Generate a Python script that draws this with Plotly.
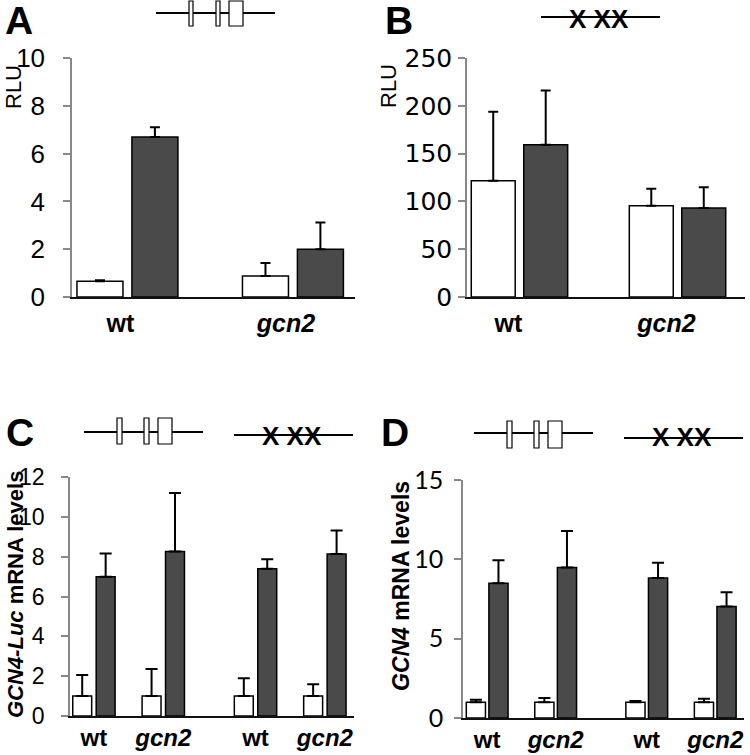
import plotly.graph_objects as go

W, H = 750, 755

# ---------------- data ----------------
# Panel A (RLU, wild-type uORF construct)
a_groups = ["wt", "gcn2"]
a_white = [0.66, 0.88]
a_white_err = [0.04, 0.54]
a_dark = [6.69, 2.0]
a_dark_err = [0.41, 1.12]

# Panel B (RLU, uORF-less construct)
b_groups = ["wt", "gcn2"]
b_white = [121.7, 95.5]
b_white_err = [72.2, 17.8]
b_dark = [159.3, 93.1]
b_dark_err = [56.7, 21.6]

# Panel C (GCN4-Luc mRNA levels)
c_groups = ["wt", "gcn2", "wt", "gcn2"]
c_white = [1.0, 1.0, 1.0, 1.0]
c_white_err = [1.06, 1.36, 0.89, 0.59]
c_dark = [6.99, 8.26, 7.39, 8.14]
c_dark_err = [1.17, 2.94, 0.48, 1.17]

# Panel D (GCN4 mRNA levels)
d_groups = ["wt", "gcn2", "wt", "gcn2"]
d_white = [1.0, 1.0, 1.0, 1.0]
d_white_err = [0.15, 0.26, 0.07, 0.22]
d_dark = [8.5, 9.48, 8.83, 7.03]
d_dark_err = [1.44, 2.31, 0.95, 0.9]

a_ticks = [0, 2, 4, 6, 8, 10]
b_ticks = [0, 50, 100, 150, 200, 250]
c_ticks = [0, 2, 4, 6, 8, 10, 12]
d_ticks = [0, 5, 10, 15]

# ---------------- helpers ----------------
def fx(x):
    return x / W

def fy(y):
    return 1 - y / H

DARK = "#4a4a4a"
ARIAL = "Liberation Sans, Arial, sans-serif"


def label(g):
    return "<b><i>%s</i></b>" % g if g != "wt" else "<b>%s</b>" % g


def positions(n):
    # pairs of groups separated by a wider gap
    return [i + (0.33 if i >= 2 else 0.0) for i in range(n)]


fig = go.Figure()


def add_panel(idx, groups, white, white_err, dark, dark_err, off, bw, capw):
    pos = positions(len(groups))
    xa = "x" if idx == 1 else "x%d" % idx
    ya = "y" if idx == 1 else "y%d" % idx
    for vals, errs, col, sgn in [(white, white_err, "white", -1), (dark, dark_err, DARK, 1)]:
        fig.add_trace(go.Bar(
            x=[p + sgn * off for p in pos], y=vals, width=bw,
            marker=dict(color=col, line=dict(color="black", width=1.5)),
            error_y=dict(type="data", array=errs, arrayminus=[0] * len(errs),
                         symmetric=False, color="black", thickness=2, width=capw),
            xaxis=xa, yaxis=ya, showlegend=False, hoverinfo="y",
        ))
    return pos


pa = add_panel(1, a_groups, a_white, a_white_err, a_dark, a_dark_err, 0.166, 0.278, 5)
pb = add_panel(2, b_groups, b_white, b_white_err, b_dark, b_dark_err, 0.166, 0.278, 5)
pc = add_panel(3, c_groups, c_white, c_white_err, c_dark, c_dark_err, 0.169, 0.273, 6)
pd_ = add_panel(4, d_groups, d_white, d_white_err, d_dark, d_dark_err, 0.165, 0.28, 6)


def xaxis_cfg(anchor, x0, x1, rng, pos, groups, size, standoff, shift=0):
    return dict(anchor=anchor, domain=[fx(x0), fx(x1)], range=rng, tickvals=pos,
                ticktext=[label(g) for g in groups], ticks="", showgrid=False,
                zeroline=False, showline=True, linecolor="#111", linewidth=2,
                tickfont=dict(family=ARIAL, size=size, color="black"),
                ticklabelstandoff=standoff, ticklabelshift=shift,
                fixedrange=True, automargin=False)


def yaxis_cfg(anchor, ytop, ybot, rng, tv, font, size, standoff):
    return dict(anchor=anchor, domain=[fy(ybot), fy(ytop)], range=rng, tickvals=tv,
                ticks="outside", ticklen=7, tickcolor="#888", tickwidth=1.5,
                showline=True, linecolor="#888", linewidth=1.5, showgrid=False,
                zeroline=False, tickfont=dict(family=font, size=size, color="black"),
                ticklabelstandoff=standoff, fixedrange=True, automargin=False)


fig.update_layout(
    template="none",
    width=W, height=H, margin=dict(l=0, r=0, t=0, b=0, autoexpand=False),
    paper_bgcolor="white", plot_bgcolor="white", barmode="overlay",
    xaxis=xaxis_cfg("y", 72, 355, [-0.335, 1.375], pa, a_groups, 25, 3, -7),
    yaxis=yaxis_cfg("x", 58, 297, [0, 10], a_ticks, ARIAL, 26, 13),
    xaxis2=xaxis_cfg("y2", 467, 745, [-0.332, 1.427], pb, b_groups, 25, 3, -11),
    yaxis2=yaxis_cfg("x2", 58, 297, [0, 250], b_ticks, "DejaVu Sans, sans-serif", 25, 1),
    xaxis3=xaxis_cfg("y3", 70, 354, [-0.345, 3.75], pc, c_groups, 24, -1),
    yaxis3=yaxis_cfg("x3", 477, 716, [0, 12], c_ticks, ARIAL, 23, 12),
    xaxis4=xaxis_cfg("y4", 463, 744, [-0.353, 3.75], pd_, d_groups, 24, -1),
    yaxis4=yaxis_cfg("x4", 480, 718, [0, 15], d_ticks, "Lato, Open Sans, sans-serif", 25, 6),
)

ann = []
# panel letters
for txt, x, y in [("A", 19, 20), ("B", 399, 21), ("C", 20, 432), ("D", 395, 433)]:
    ann.append(dict(text="<b>%s</b>" % txt, x=fx(x), y=fy(y), xref="paper", yref="paper",
                    xanchor="center", yanchor="middle", showarrow=False,
                    font=dict(family=ARIAL, size=39, color="black")))
# y titles
for txt, x, y, size in [("RLU", 13, 87, 22), ("RLU", 389, 86, 22),
                        ("<b><i>GCN4-Luc</i> mRNA levels</b>", 15, 595, 22),
                        ("<b><i>GCN4</i> mRNA levels</b>", 401, 586, 23)]:
    ann.append(dict(text=txt, x=fx(x), y=fy(y), xref="paper", yref="paper",
                    xanchor="center", yanchor="middle", textangle=-90, showarrow=False,
                    font=dict(family=ARIAL, size=size, color="black")))
# crossed-out uORF labels
for x, y in [(599, 19), (292, 436), (682, 437)]:
    ann.append(dict(text="<b>X XX</b>", x=fx(x), y=fy(y), xref="paper", yref="paper",
                    xanchor="center", yanchor="middle", showarrow=False,
                    font=dict(family=ARIAL, size=26, color="black")))

shapes = []
# leader lines
for x0, x1, y in [(156, 275, 13), (541, 660, 17), (84, 203, 432), (234, 353, 435),
                  (474, 593, 433), (624, 743, 438)]:
    shapes.append(dict(type="line", xref="paper", yref="paper", x0=fx(x0), x1=fx(x1),
                       y0=fy(y), y1=fy(y), line=dict(color="black", width=2), layer="below"))
# uORF boxes
for boxes in [[(189, 193, 1, 26), (216, 220, 1, 26), (229, 243, 1, 26)],
              [(117, 122, 418, 444), (144, 149, 418, 444), (158, 172, 418, 444)],
              [(507, 512, 421, 448), (534, 539, 421, 448), (548, 562, 421, 448)]]:
    for x0, x1, y0, y1 in boxes:
        shapes.append(dict(type="rect", xref="paper", yref="paper", x0=fx(x0), x1=fx(x1),
                           y0=fy(y1), y1=fy(y0), fillcolor="white",
                           line=dict(color="black", width=1.2)))

fig.update_layout(annotations=ann, shapes=shapes)
fig.write_html("out.html", config={"displayModeBar": False},
               post_script="document.body.style.margin='0';document.body.style.overflow='hidden';")
